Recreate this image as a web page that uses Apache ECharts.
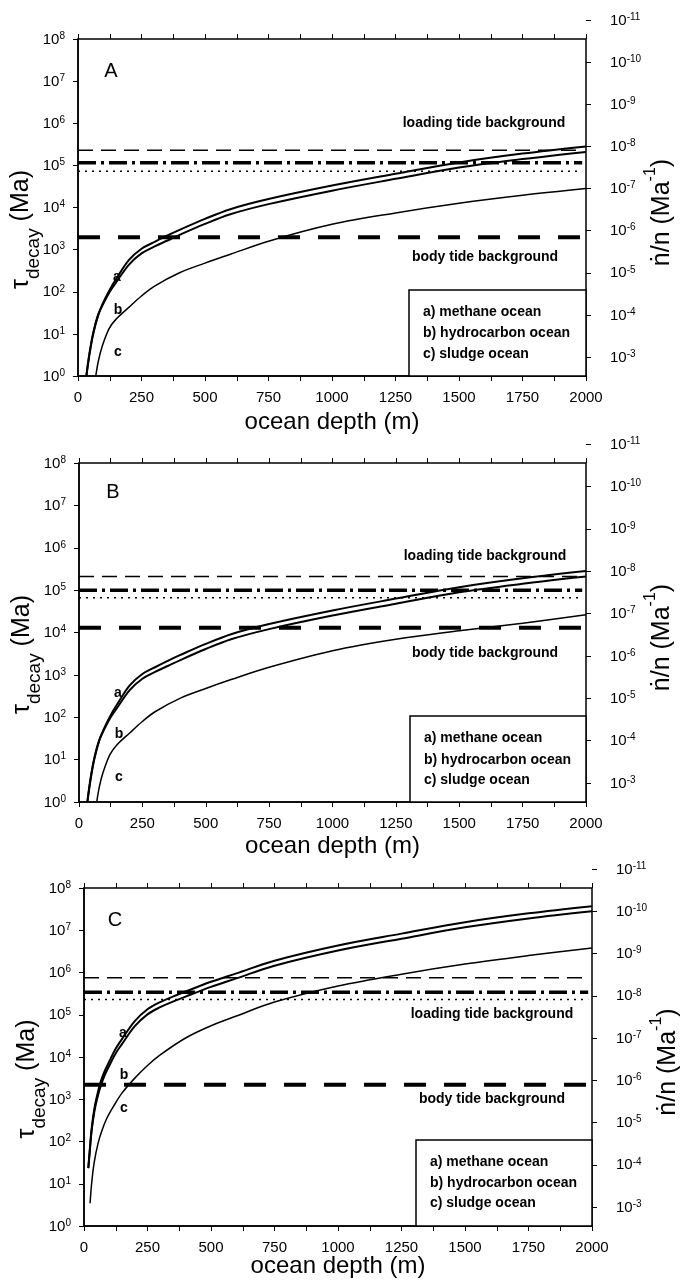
<!DOCTYPE html>
<html><head><meta charset="utf-8">
<script src="https://cdn.jsdelivr.net/npm/echarts@6.0.0/dist/echarts.min.js"></script>
<style>html,body{margin:0;padding:0;background:#fff}#c{width:681px;height:1281px}</style>
</head><body><div id="c"></div>
<script>
// ---------------- data (log10 of tau_decay in Ma) ----------------
const xTickValues = [0, 250, 500, 750, 1000, 1250, 1500, 1750, 2000];
const leftExponents = [0, 1, 2, 3, 4, 5, 6, 7, 8];
const rightExponents = [-11, -10, -9, -8, -7, -6, -5, -4, -3];
const panelLetters = ['A', 'B', 'C'];
const legendTexts = ['a) methane ocean', 'b) hydrocarbon ocean', 'c) sludge ocean'];
const curveLabels = ['a', 'b', 'c'];

// panel A
const depthA_a = [33,45,60,80,100,125,150,200,250,300,350,400,500,600,750,1000,1250,1500,1750,2000];
const logTauA_a = [0,0.5,1.0,1.45,1.75,2.05,2.3,2.75,3.02,3.18,3.33,3.47,3.73,3.96,4.2,4.52,4.8,5.07,5.28,5.45];
const depthA_b = [33,44,59,79,100,125,150,200,250,300,350,400,500,600,750,1000,1250,1500,1750,2000];
const logTauA_b = [0,0.5,1.0,1.45,1.72,2.0,2.22,2.64,2.91,3.07,3.21,3.35,3.61,3.84,4.08,4.4,4.68,4.95,5.15,5.32];
const depthA_c = [70,80,95,122,150,200,250,300,400,500,600,750,1000,1250,1500,1750,2000];
const logTauA_c = [0,0.35,0.7,1.12,1.35,1.63,1.9,2.13,2.45,2.68,2.89,3.2,3.6,3.87,4.1,4.29,4.45];
const linesA = [2.3e5, 1.15e5, 7.3e4, 1.96e3]; // loading dashed, dash-dot, dotted, body tide

// panel B
const depthB_a = [33,45,60,80,100,125,150,200,250,300,350,400,500,600,750,1000,1250,1500,1750,2000];
const logTauB_a = [0,0.5,1.0,1.45,1.75,2.05,2.3,2.75,3.02,3.18,3.33,3.47,3.73,3.96,4.2,4.52,4.8,5.07,5.28,5.45];
const depthB_b = [33,44,59,79,100,125,150,200,250,300,350,400,500,600,750,1000,1250,1500,1750,2000];
const logTauB_b = [0,0.5,1.0,1.45,1.72,2.0,2.22,2.64,2.91,3.07,3.21,3.35,3.61,3.84,4.08,4.4,4.68,4.95,5.15,5.32];
const depthB_c = [70,80,95,122,150,200,250,300,400,500,600,750,1000,1250,1500,1750,2000];
const logTauB_c = [0,0.35,0.7,1.12,1.35,1.63,1.9,2.13,2.45,2.68,2.89,3.18,3.57,3.84,4.04,4.22,4.42];
const linesB = [2.1e5, 1.0e5, 6.6e4, 1.3e4];

// panel C
const depthC_a = [17,22,30,40,50,65,80,100,125,150,200,250,300,350,400,500,600,750,1000,1250,1500,1750,2000];
const logTauC_a = [1.37,1.75,2.3,2.75,3.05,3.4,3.65,3.9,4.2,4.43,4.85,5.13,5.3,5.43,5.55,5.78,5.98,6.28,6.64,6.92,7.19,7.4,7.57];
const depthC_b = [17,22,30,40,50,65,80,100,125,150,200,250,300,350,400,500,600,750,1000,1250,1500,1750,2000];
const logTauC_b = [1.37,1.72,2.25,2.68,2.97,3.3,3.55,3.8,4.09,4.31,4.73,5.01,5.18,5.31,5.43,5.66,5.86,6.16,6.52,6.8,7.07,7.28,7.45];
const depthC_c = [24,30,40,55,70,90,120,150,200,250,300,400,500,600,750,1000,1250,1500,1750,2000];
const logTauC_c = [0.54,1.0,1.5,1.95,2.25,2.55,2.87,3.15,3.5,3.8,4.05,4.45,4.74,4.97,5.3,5.68,5.96,6.2,6.4,6.58];
const linesC = [7.5e5, 3.4e5, 2.3e5, 2.2e3];

// ---------------- layout ----------------
const FONT = '"Liberation Sans", Arial, Helvetica, sans-serif';
const panels = [
  {left: 78, top: 39, width: 508, height: 337, curves: [[depthA_a, logTauA_a], [depthA_b, logTauA_b], [depthA_c, logTauA_c]], lines: linesA,
   letter: [111, 71], loadTxt: [484, 123], bodyTxt: [485, 257], lab: [[117, 277], [118, 310], [118, 352]], box: [409, 290], txt: [423, 312, 333, 354], nameGap: 33},
  {left: 79, top: 463, width: 507, height: 339, curves: [[depthB_a, logTauB_a], [depthB_b, logTauB_b], [depthB_c, logTauB_c]], lines: linesB,
   letter: [113, 492], loadTxt: [485, 556], bodyTxt: [485, 653], lab: [[118, 693], [119, 734], [119, 777]], box: [410, 716], txt: [424, 738, 760, 780], nameGap: 31},
  {left: 84, top: 888, width: 508, height: 338, curves: [[depthC_a, logTauC_a], [depthC_b, logTauC_b], [depthC_c, logTauC_c]], lines: linesC,
   letter: [115, 920], loadTxt: [492, 1014], bodyTxt: [492, 1099], lab: [[123, 1033], [124, 1075], [124, 1108]], box: [416, 1140], txt: [430, 1162, 1183, 1203], nameGap: 27}
];

function pow10Label(v) {
  const e = Math.round(Math.log10(v));
  return '{b|10}{s|' + e + '}';
}
const labelRich = {
  b: {fontSize: 15, fontFamily: FONT, color: '#000', lineHeight: 16, verticalAlign: 'bottom'},
  s: {fontSize: 10, fontFamily: FONT, color: '#000', lineHeight: 16, verticalAlign: 'top'}
};

const grid = [], xAxis = [], yAxis = [], series = [], graphic = [];
panels.forEach((p) => {
  grid.push({left: p.left, top: p.top, width: p.width, height: p.height, show: true, borderColor: '#000', borderWidth: 1.5,
    backgroundColor: 'transparent', containLabel: false, outerBoundsMode: 'none'});
});
panels.forEach((p) => {
  // right-axis grid: 10^-11 sits 19px above the frame
  grid.push({left: p.left, top: p.top - 19, width: p.width, height: p.height, show: false, containLabel: false, outerBoundsMode: 'none'});
});

panels.forEach((p, i) => {
  xAxis.push({
    type: 'value', gridIndex: i, position: 'bottom', min: 0, max: 2000, interval: 125,
    name: 'ocean depth (m)', nameLocation: 'middle', nameGap: p.nameGap + 1, nameMoveOverlap: false,
    nameTextStyle: {fontSize: 24, fontFamily: FONT, color: '#000'},
    axisLine: {show: true, onZero: false, lineStyle: {color: '#000', width: 1.5}},
    axisTick: {show: true, inside: false, length: 5, lineStyle: {color: '#000', width: 1}},
    axisLabel: {show: true, margin: 14, fontSize: 15, fontFamily: FONT, color: '#000',
      formatter: v => (xTickValues.indexOf(v) >= 0 ? String(v) : '')},
    splitLine: {show: false}
  });
  xAxis.push({
    type: 'value', gridIndex: i, position: 'top', min: 0, max: 2000, interval: 125,
    axisLine: {show: false, onZero: false}, axisLabel: {show: false},
    axisTick: {show: true, inside: false, length: 5, lineStyle: {color: '#000', width: 1}},
    splitLine: {show: false}
  });
});
panels.forEach((p, i) => {
  xAxis.push({type: 'value', gridIndex: 3 + i, min: 0, max: 2000, show: false,
    axisLine: {show: false, onZero: false}, axisTick: {show: false}, axisLabel: {show: false}, splitLine: {show: false}});
});

panels.forEach((p, i) => {
  yAxis.push({
    type: 'log', logBase: 10, gridIndex: i, position: 'left',
    min: Math.pow(10, leftExponents[0]), max: Math.pow(10, leftExponents[leftExponents.length - 1]), interval: 1,
    name: '{t|τ}{sub|decay}{t| (Ma)}', nameLocation: 'middle', nameGap: 35, nameRotate: 90, nameMoveOverlap: false,
    nameTextStyle: {padding: [0, 44, 0, 0], rich: {
      t: {fontSize: 25, fontFamily: FONT, color: '#000', lineHeight: 34, verticalAlign: 'top'},
      sub: {fontSize: 19, fontFamily: FONT, color: '#000', lineHeight: 34, verticalAlign: 'bottom'}
    }},
    axisLine: {show: true, onZero: false, lineStyle: {color: '#000', width: 1.5}},
    axisTick: {show: true, inside: false, length: 5, lineStyle: {color: '#000', width: 1}},
    axisLabel: {show: true, margin: 13, formatter: pow10Label, rich: labelRich},
    splitLine: {show: false}
  });
});
panels.forEach((p, i) => {
  yAxis.push({
    type: 'log', logBase: 10, gridIndex: 3 + i, position: 'right', inverse: true,
    min: Math.pow(10, rightExponents[0]), max: Math.pow(10, rightExponents[rightExponents.length - 1]), interval: 1,
    name: '{t|ṅ/n (Ma}{s|-1}{t|)}', nameLocation: 'middle', nameGap: 57, nameRotate: 90, nameMoveOverlap: false,
    nameTextStyle: {padding: [0, 48, 0, 0], rich: {
      t: {fontSize: 25, fontFamily: FONT, color: '#000', lineHeight: 32, verticalAlign: 'bottom'},
      s: {fontSize: 16, fontFamily: FONT, color: '#000', lineHeight: 32, verticalAlign: 'top'}
    }},
    axisLine: {show: false, onZero: false},
    axisTick: {show: true, inside: false, length: 5, lineStyle: {color: '#000', width: 1}},
    axisLabel: {show: true, margin: 24, formatter: pow10Label, rich: labelRich},
    splitLine: {show: false}
  });
});

const curveWidths = [2, 2, 1.5];
const lineStyles = [
  {type: [15, 8], width: 1.5},
  {type: [18, 5, 3, 5], width: 3.5},
  {type: [2, 5], width: 1.5},
  {type: [22, 18], width: 4}
];
panels.forEach((p, i) => {
  p.lines.forEach((v, k) => {
    series.push({
      type: 'line', xAxisIndex: 2 * i, yAxisIndex: i, showSymbol: false, silent: true,
      data: [[0, v], [1985, v]],
      lineStyle: {color: '#000', width: lineStyles[k].width, type: lineStyles[k].type}
    });
  });
  p.curves.forEach((c, k) => {
    series.push({
      type: 'line', name: legendTexts[k], xAxisIndex: 2 * i, yAxisIndex: i, showSymbol: false, silent: true,
      smooth: 0.35, clip: true,
      data: c[0].map((d, j) => [d, Math.pow(10, c[1][j])]),
      lineStyle: {color: '#000', width: curveWidths[k]}
    });
  });

  const boldF = 'bold 14px ' + FONT;
  graphic.push({type: 'text', z: 100, style: {text: panelLetters[i], x: p.letter[0], y: p.letter[1], font: '20px ' + FONT, fill: '#000', textAlign: 'center', textVerticalAlign: 'middle', verticalAlign: 'middle'}});
  graphic.push({type: 'text', z: 100, style: {text: 'loading tide background', x: p.loadTxt[0], y: p.loadTxt[1], font: boldF, fill: '#000', textAlign: 'center', textVerticalAlign: 'middle', verticalAlign: 'middle'}});
  graphic.push({type: 'text', z: 100, style: {text: 'body tide background', x: p.bodyTxt[0], y: p.bodyTxt[1], font: boldF, fill: '#000', textAlign: 'center', textVerticalAlign: 'middle', verticalAlign: 'middle'}});
  curveLabels.forEach((t, k) => {
    graphic.push({type: 'text', z: 100, style: {text: t, x: p.lab[k][0], y: p.lab[k][1], font: boldF, fill: '#000', textAlign: 'center', textVerticalAlign: 'middle', verticalAlign: 'middle'}});
  });
  const bx = p.box[0], by = p.box[1];
  graphic.push({type: 'rect', z: 90, shape: {x: bx, y: by, width: p.left + p.width - bx, height: p.top + p.height - by},
    style: {fill: '#fff', stroke: '#000', lineWidth: 1.5}});
  legendTexts.forEach((t, k) => {
    graphic.push({type: 'text', z: 100, style: {text: t, x: p.txt[0], y: p.txt[1 + k], font: boldF, fill: '#000', textAlign: 'left', textVerticalAlign: 'middle', verticalAlign: 'middle'}});
  });
});

const chart = echarts.init(document.getElementById('c'), null, {renderer: 'canvas'});
chart.setOption({
  animation: false,
  backgroundColor: '#fff',
  textStyle: {fontFamily: FONT},
  grid, xAxis, yAxis, series, graphic
});
</script>
</body></html>
